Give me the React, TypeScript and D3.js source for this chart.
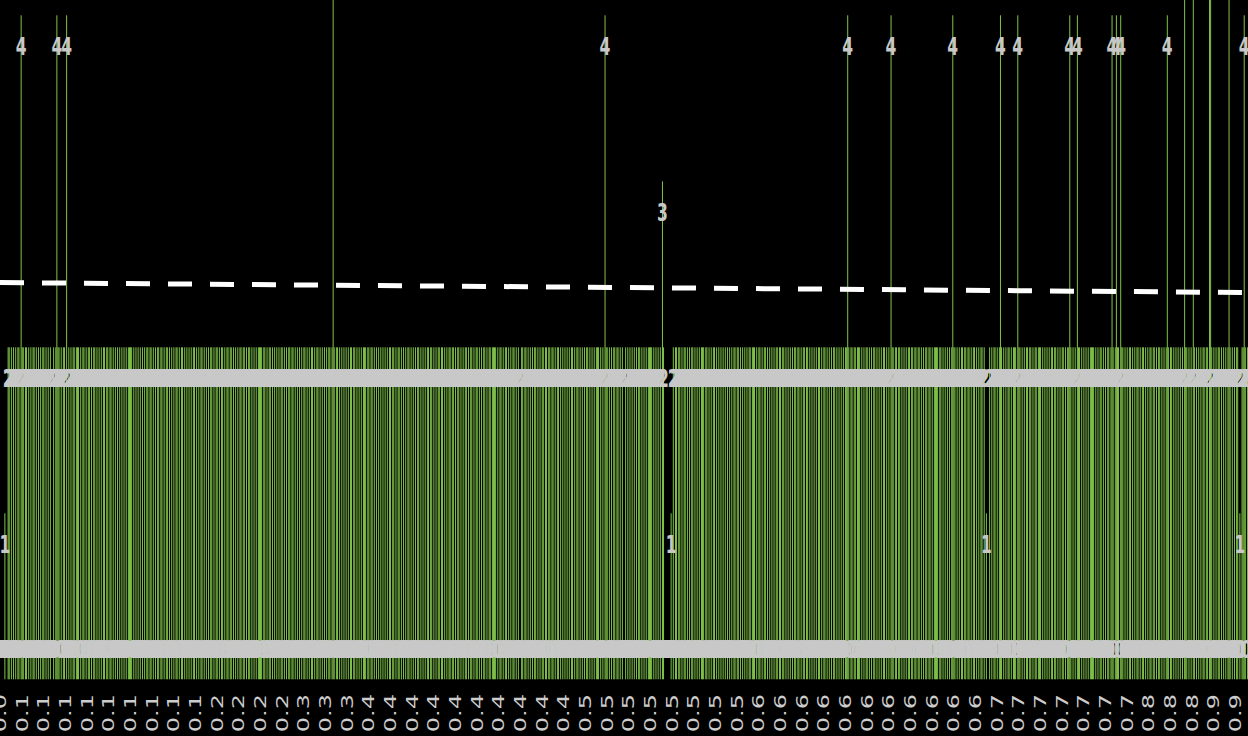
import React from "react";
import * as d3 from "d3";

const W = 1248;
const H = 736;

// bar heights, one digit per category, read left to right (24 categories per row)
const barRows: string[] = [
  "000010022020202022042202",
  "202020220202020220202020",
  "020242202022040202022022",
  "202022020220202202020202",
  "202202202020202020202022",
  "220202020202020220220202",
  "022022020220202020220202",
  "202020202022020202202020",
  "202202022020220202202202",
  "020202202202022020202022",
  "220220202202020202022020",
  "202202202020202022020202",
  "202022020202020220252022",
  "020202020202202202020202",
  "220220220202020202020202",
  "202202022020202022020202",
  "022020202022022020202202",
  "202020220220202202020220",
  "202202022020202202022022",
  "220202202022020202202020",
  "022022020202022020202202",
  "202202202022020202020202",
  "202022020202022020202022",
  "202020422020202202202020",
  "020202020202022020202022",
  "220202020203200000010202",
  "202202022020202202020202",
  "220220202022020202020202",
  "020202202202020202022022",
  "202022020220202020202202",
  "202202020202022022020220",
  "220202020202202022020202",
  "022020202020224202202202",
  "220202022020202202020202",
  "202020422022022020202022",
  "022022022020202202202022",
  "220220202020202422020202",
  "202202202022020202202010",
  "020202202024202020220202",
  "220422020202202202022022",
  "202020202022022020202202",
  "022420202042202020202022",
  "220202022020202202420242",
  "204220202022020202202022",
  "020202202202022020202420",
  "220202020202052202020520",
  "202020220220552020202202",
  "020202520202022010224202",
];
const barValues: number[] = barRows.join("").split("").map(Number);

// x-axis tick labels, one every TICK_EVERY categories
const tickLabels: string[] = [
  "0.0",
  "0.1", "0.1", "0.1", "0.1", "0.1", "0.1", "0.1", "0.1", "0.1",
  "0.2", "0.2", "0.2", "0.2",
  "0.3", "0.3", "0.3",
  "0.4", "0.4", "0.4", "0.4", "0.4", "0.4", "0.4", "0.4", "0.4", "0.4",
  "0.5", "0.5", "0.5", "0.5", "0.5", "0.5", "0.5", "0.5",
  "0.6", "0.6", "0.6", "0.6", "0.6", "0.6", "0.6", "0.6", "0.6", "0.6", "0.6",
  "0.7", "0.7", "0.7", "0.7", "0.7", "0.7", "0.7",
  "0.8", "0.8", "0.8",
  "0.9", "0.9",
];
const TICK_EVERY = 20;

// dashed trend line: value at the left edge and at the right edge
const trendValues: number[] = [2.39, 2.33];

const yDomain: number[] = [0, 4];

export default function App() {
  const idx = d3.range(barValues.length);
  const x = d3
    .scaleBand<number>()
    .domain(idx)
    .range([0, W])
    .paddingInner(0.1)
    .paddingOuter(0.05);
  const y = d3.scaleLinear().domain(yDomain).range([679.3, 15.3]);
  const bw = x.bandwidth();
  const y0 = y(0);
  const xt = d3.scaleLinear().domain([0, 1]).range([0, W]);
  const trendLine = d3
    .line<number>()
    .x((_, i) => xt(i))
    .y((d) => y(d));

  const SX = 0.65;
  const FS = 24;

  return (
    <svg
      width={W}
      height={H}
      style={{ position: "absolute", left: 0, top: 0, display: "block" }}
    >
      <rect x={0} y={0} width={W} height={H} fill="#000" />
      <g>
        {barValues.map((v, i) =>
          v > 0 ? (
            <rect
              key={"b" + i}
              x={x(i)}
              y={y(v)}
              width={bw}
              height={y0 - y(v)}
              fill="#84c84c"
            />
          ) : null
        )}
      </g>
      <path
        d={trendLine(trendValues) || ""}
        fill="none"
        stroke="#fff"
        strokeWidth={5}
        strokeDasharray="24,18"
      />
      <g
        fontFamily="'DejaVu Sans', sans-serif"
        fontWeight="bold"
        fontSize={FS}
        fill="#c8c8c8"
        textAnchor="middle"
      >
        {barValues.map((v, i) => {
          const cx = (x(i) as number) + bw / 2;
          const ty = v > 0 ? y(v) + 40 : y0 - 21;
          return (
            <text key={"l" + i} transform={`translate(${cx},${ty}) scale(${SX},1)`}>
              {v}
            </text>
          );
        })}
      </g>
      <g fontFamily="'DejaVu Sans', sans-serif" fontSize={FS} fill="#cccccc" textAnchor="end">
        {tickLabels.map((t, k) => {
          const i = k * TICK_EVERY;
          const cx = (x(i) as number) + bw / 2;
          return (
            <text
              key={"t" + k}
              transform={`translate(${cx},694) scale(${SX},1) rotate(-90)`}
              dy="0.35em"
            >
              {t}
            </text>
          );
        })}
      </g>
    </svg>
  );
}
